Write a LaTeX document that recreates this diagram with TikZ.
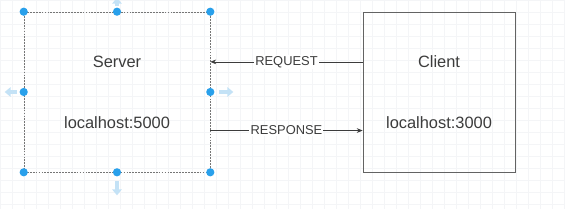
\documentclass[tikz,border=0pt]{standalone}
\usepackage{fontspec}
\setmainfont{Liberation Sans}
\usepackage{xcolor}
\usetikzlibrary{positioning, arrows.meta, calc}

\definecolor{handleblue}{RGB}{41,160,235}
\definecolor{hintblue}{RGB}{196,226,246}
\definecolor{linegray}{RGB}{60,60,60}
\definecolor{gridgray}{RGB}{244,245,247}

\tikzset{
  box/.style={draw=linegray!80, line width=0.6pt, minimum height=4.8cm, inner sep=0pt},
  selbox/.style={draw=linegray!70, dashed, dash pattern=on 1.5pt off 1pt, line width=0.5pt},
  boxtext/.style={font=\fontsize{14}{16}\selectfont, text=linegray},
  msg/.style={-{Stealth[length=5pt, width=4pt]}, draw=linegray, line width=0.6pt},
  msglabel/.style={fill=white, inner sep=1pt, font=\fontsize{11}{13}\selectfont, text=linegray},
  handle/.style={circle, fill=handleblue, inner sep=0pt, minimum size=7pt},
  hint/.style={-{Triangle[length=5pt, width=8pt]}, draw=hintblue, line width=3pt}
}

\begin{document}
\begin{tikzpicture}[x=0.03cm, y=-0.03cm]
  % canvas and grid
  \useasboundingbox (0,0) rectangle (565,209);
  \fill[white] (0,0) rectangle (565,209);
  \foreach \g in {0,12,...,564} {
    \draw[gridgray, line width=0.4pt] (\g,0) -- (\g,209);
  }
  \foreach \g in {0,12,...,208} {
    \draw[gridgray, line width=0.4pt] (0,\g) -- (565,\g);
  }

  % boxes
  \node[box, selbox, minimum width=5.58cm] (server) at (117,92) {};
  \node[box, minimum width=4.56cm] (client) at (439,92) {};

  % box texts
  \node[boxtext] (srvname) at (117,62) {Server};
  \node[boxtext] (srvport) at (117,123) {localhost:5000};
  \node[boxtext] (cliname) at (439,62) {Client};
  \node[boxtext] (cliport) at (439,123) {localhost:3000};

  % messages
  \coordinate (reqstart) at ($(client.north west)!0.3125!(client.south west)$);
  \coordinate (resstart) at ($(server.north east)!0.74!(server.south east)$);
  \draw[msg] (reqstart) -- (server.east |- reqstart) node[msglabel, midway] (reqlabel) {REQUEST};
  \draw[msg] (resstart) -- (client.west |- resstart) node[msglabel, midway] (reslabel) {RESPONSE};

  % selection hints
  \draw[hint] (server.west) ++(-7,0) coordinate (hl) -- ++(-12,0);
  \draw[hint] (server.east) ++(9,0) coordinate (hr) -- ++(14,0);
  \draw[hint] (server.south) ++(0,9) coordinate (hd) -- ++(0,14);
  \draw[hint] (server.north) ++(0,-6) coordinate (hu) -- ++(0,-8);

  % selection handles
  \foreach \a in {north west, north, north east, west, east, south west, south, south east} {
    \node[handle] at (server.\a) {};
  }
\end{tikzpicture}
\end{document}
